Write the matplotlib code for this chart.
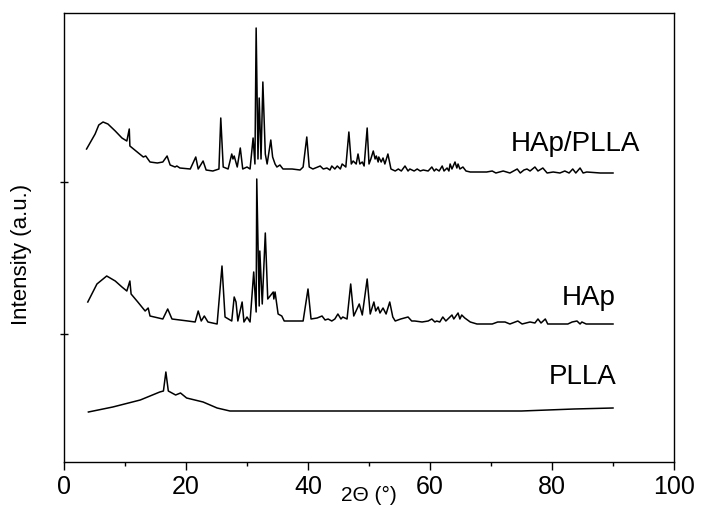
import numpy as np
import matplotlib.pyplot as plt
from matplotlib.ticker import MultipleLocator

plt.rcParams['font.family'] = ['Liberation Sans', 'DejaVu Sans']

# traced XRD patterns : 2theta (deg), intensity (a.u., already offset)
hp_tt = [3.7, 5.1, 5.7, 6.4, 7.2, 8.4, 9.5, 10.3, 10.7, 10.8, 12.0, 13.0, 13.4, 14.1,
         15.3, 16.2, 16.9, 17.4, 18.2, 18.5, 19.0, 20.7, 21.6, 22.0, 22.8, 23.3, 24.4,
         25.4, 25.7, 26.1, 26.9, 27.5, 27.7, 27.9, 28.4, 28.9, 29.3, 30.0, 30.5, 31.0,
         31.3, 31.5, 31.8, 32.0, 32.3, 32.6, 33.0, 33.3, 33.9, 34.2, 34.6, 34.9, 35.4,
         35.9, 37.4, 38.7, 39.2, 39.8, 40.2, 40.8, 42.0, 42.5, 43.1, 43.6, 43.9, 44.4,
         44.8, 45.3, 45.6, 46.2, 46.7, 47.1, 47.4, 47.9, 48.2, 48.5, 48.9, 49.2, 49.7,
         50.0, 50.3, 50.7, 51.0, 51.2, 51.5, 51.6, 52.0, 52.3, 52.6, 53.1, 53.6, 54.3,
         54.8, 55.3, 55.9, 56.4, 56.7, 57.4, 57.9, 58.4, 58.9, 59.7, 60.3, 60.7, 61.0,
         61.5, 62.0, 62.3, 62.8, 63.1, 63.3, 63.6, 64.1, 64.4, 64.6, 64.9, 65.4, 65.9,
         66.6, 69.3, 70.2, 70.8, 72.0, 73.1, 74.3, 74.8, 75.4, 75.9, 76.4, 77.2, 77.7,
         78.5, 79.2, 80.2, 81.3, 82.1, 82.8, 83.4, 83.9, 84.6, 85.1, 85.7, 87.9, 90.0]
hp_int = [313, 328, 337, 340, 338, 331, 324, 321, 333, 316, 310, 305, 306, 300,
          299, 300, 306, 297, 295, 296, 294, 293, 305, 293, 301, 292, 291,
          293, 344, 295, 293, 308, 303, 306, 295, 314, 293, 295, 293, 324,
          298, 434, 303, 364, 303, 380, 308, 298, 322, 305, 298, 295, 297,
          293, 293, 292, 295, 325, 295, 293, 296, 293, 294, 292, 296, 293,
          296, 293, 298, 295, 330, 298, 301, 298, 308, 298, 300, 296, 334,
          298, 303, 311, 303, 306, 300, 305, 300, 304, 298, 308, 293, 291,
          293, 291, 296, 291, 293, 291, 293, 291, 292, 291, 295, 291, 293,
          291, 296, 291, 294, 291, 298, 293, 300, 294, 298, 293, 295, 291,
          290, 290, 291, 289, 291, 289, 293, 289, 292, 293, 291, 295, 291,
          294, 289, 290, 289, 291, 289, 293, 289, 294, 289, 290, 289, 289]

hap_tt = [3.9, 5.4, 7.0, 8.4, 9.5, 10.3, 10.8, 11.0, 12.1, 13.3, 13.8, 14.1, 16.2,
          17.0, 17.7, 19.0, 20.3, 21.5, 22.0, 22.5, 23.0, 23.6, 25.1, 25.9, 26.4,
          27.5, 27.9, 28.2, 28.5, 29.2, 29.5, 30.0, 30.5, 31.1, 31.5, 31.6, 32.0,
          32.1, 32.5, 33.0, 33.4, 34.3, 34.4, 34.6, 35.1, 35.7, 36.1, 37.5, 39.2,
          40.0, 40.5, 41.5, 42.3, 42.8, 43.3, 43.9, 44.4, 44.9, 45.4, 45.7, 46.4,
          47.0, 47.5, 48.4, 48.9, 49.7, 50.2, 50.8, 51.1, 51.5, 51.8, 52.3, 52.8,
          53.4, 53.9, 54.3, 55.2, 56.4, 57.0, 57.5, 58.7, 59.7, 60.3, 60.8, 61.1,
          61.6, 62.1, 62.6, 63.1, 63.6, 63.9, 64.6, 64.9, 65.2, 65.7, 66.6, 67.7,
          70.2, 71.1, 72.3, 73.1, 74.4, 75.1, 76.4, 77.2, 77.7, 78.2, 78.9, 79.3,
          80.5, 82.6, 83.3, 84.1, 84.6, 84.9, 85.6, 86.2, 90.0]
hap_int = [160, 178, 186, 181, 175, 171, 181, 168, 160, 151, 154, 146, 143,
           153, 143, 142, 141, 140, 151, 141, 146, 140, 138, 196, 145,
           141, 165, 160, 141, 160, 140, 145, 140, 190, 150, 283, 156,
           211, 158, 229, 163, 170, 163, 170, 148, 146, 141, 141, 141,
           173, 143, 144, 146, 142, 143, 141, 143, 148, 143, 145, 143,
           178, 146, 158, 147, 183, 148, 160, 151, 155, 149, 154, 148,
           160, 145, 141, 143, 145, 141, 141, 140, 141, 143, 140, 141,
           140, 145, 141, 144, 147, 143, 149, 143, 147, 144, 140, 138,
           138, 140, 140, 138, 141, 138, 140, 139, 143, 139, 143, 138,
           138, 138, 140, 141, 138, 140, 138, 138, 138]

plla_tt = [4.0, 8.0, 12.5, 15.7, 16.3, 16.7, 17.1, 18.3, 19.1, 20.1, 22.8, 25.1,
           27.2, 35.4, 45.0, 55.0, 65.0, 75.0, 83.6, 90.0]
plla_int = [50, 55, 62, 70, 71, 90, 71, 67, 69, 64, 60, 54,
            51, 51, 51, 51, 51, 51, 53, 54]

curves = [(hp_tt, hp_int), (hap_tt, hap_int), (plla_tt, plla_int)]
labels = ['HAp/PLLA', 'HAp', 'PLLA']
label_x = [94.5, 90.5, 90.5]
label_y = [312, 158, 79]

fig = plt.figure(figsize=(7.02, 5.10), dpi=100)
ax = fig.add_axes([64/702, 47/510, 610/702, 449/510])

for (tt, I), lab, lx, ly in zip(curves, labels, label_x, label_y):
    ax.plot(tt, I, 'k-', lw=1.1)
    ax.text(lx, ly, lab, fontsize=20, ha='right', va='baseline')

ax.set_xlim(0, 100)
ax.set_ylim(0, 449)
ax.xaxis.set_major_locator(MultipleLocator(20))
ax.xaxis.set_minor_locator(MultipleLocator(10))
ax.set_yticks([128, 280])
ax.set_yticklabels([])
ax.tick_params(axis='x', which='major', direction='out', length=6, width=1, labelsize=18, pad=3)
ax.tick_params(axis='x', which='minor', direction='out', length=3, width=1)
ax.tick_params(axis='y', direction='inout', length=6, width=1)
for s in ax.spines.values():
    s.set_linewidth(1)

ax.set_xlabel('2Θ (°)', fontsize=15)
ax.xaxis.set_label_coords(0.5, -0.05)
ax.set_ylabel('Intensity (a.u.)', fontsize=16)
ax.yaxis.set_label_coords(-0.052, 0.465)

fig.savefig('out.png', dpi=100)
